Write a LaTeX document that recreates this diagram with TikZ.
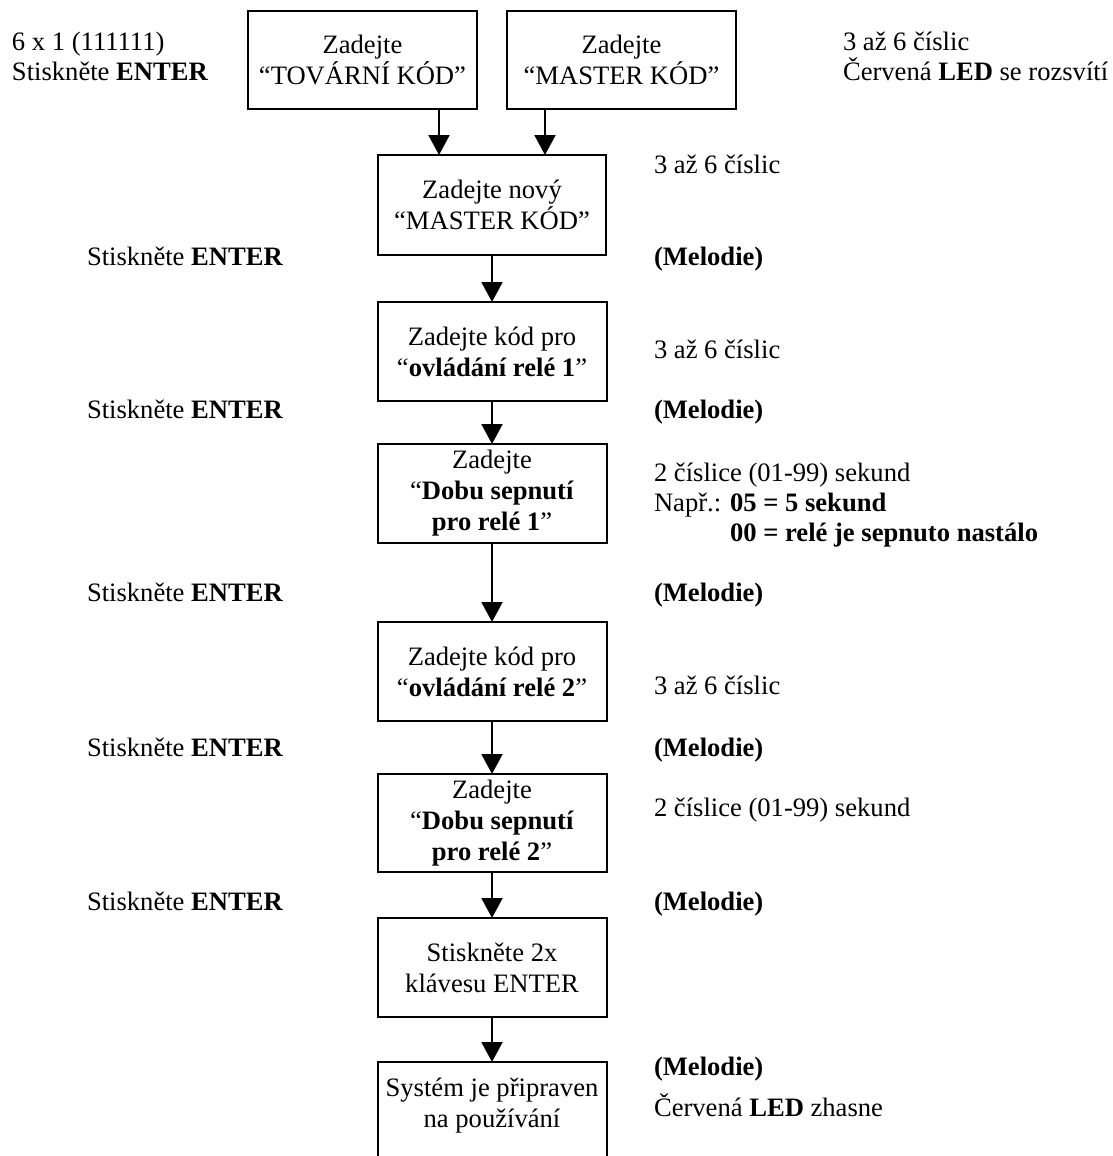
\documentclass[tikz,border=0pt]{standalone}
\usepackage{fontspec}
\setmainfont{Liberation Serif}
\usetikzlibrary{arrows.meta}
\begin{document}
\begin{tikzpicture}[x=1pt,y=-1pt,
  every node/.style={font=\fontsize{26.6}{31}\selectfont, inner sep=0pt, outer sep=0pt},
  box/.style={draw, line width=2pt, minimum width=229pt, minimum height=99pt, align=center},
  arr/.style={line width=2pt, -{Triangle[width=21pt,length=20pt]}},
  lbl/.style={anchor=base west}]
\useasboundingbox (0,0) rectangle (1112,1156);
\clip (0,0) rectangle (1112,1156);

% boxes
\node[box, minimum height=98pt] (b1) at (362.5,60) {Zadejte\\“TOVÁRNÍ KÓD”};
\node[box, minimum height=98pt] (b2) at (621.5,60) {Zadejte\\“MASTER KÓD”};
\node[box, minimum width=228pt, minimum height=100pt] (b3) at (492,205) {Zadejte nový\\“MASTER KÓD”};
\node[box] (b4) at (492,351.5) {Zadejte kód pro\\“\textbf{ovládání relé 1}”};
\node[box] (b5) at (492,493.5) {Zadejte\\“\textbf{Dobu sepnutí}\\\textbf{pro relé 1}”};
\node[box] (b6) at (492,671.5) {Zadejte kód pro\\“\textbf{ovládání relé 2}”};
\node[box, minimum height=98pt] (b7) at (492,823) {Zadejte\\“\textbf{Dobu sepnutí}\\\textbf{pro relé 2}”};
\node[box] (b8) at (492,967.5) {Stiskněte 2x\\klávesu ENTER};
\node[box] (b9) at (492,1111.5) {};
\node[align=center] (b9t) at (492,1106) {Systém je připraven\\na používání};

% connectors
\coordinate (a1) at (439,0);
\coordinate (a2) at (545,0);
\draw[arr] (a1 |- b1.south) -- (a1 |- b3.north);
\draw[arr] (a2 |- b2.south) -- (a2 |- b3.north);
\draw[arr] (b3.south) -- (b4.north);
\draw[arr] (b4.south) -- (b5.north);
\draw[arr] (b5.south) -- (b6.north);
\draw[arr] (b6.south) -- (b7.north);
\draw[arr] (b7.south) -- (b8.north);
\draw[arr] (b8.south) -- (b9.north);

% left texts
\node[lbl] (l0a) at (12,51) {6 x 1 (111111)};
\node[lbl] (l0b) at (12,81) {Stiskněte \textbf{ENTER}};
\node[lbl] (l1) at (87,265.5) {Stiskněte \textbf{ENTER}};
\node[lbl] (l2) at (87,418.5) {Stiskněte \textbf{ENTER}};
\node[lbl] (l3) at (87,601.5) {Stiskněte \textbf{ENTER}};
\node[lbl] (l4) at (87,756.5) {Stiskněte \textbf{ENTER}};
\node[lbl] (l5) at (87,910.5) {Stiskněte \textbf{ENTER}};

% right texts
\node[lbl] (r0a) at (843,51) {3 až 6 číslic};
\node[lbl] (r0b) at (843,81) {Červená \textbf{LED} se rozsvítí};
\node[lbl] (r1) at (654,173) {3 až 6 číslic};
\node[lbl] (m1) at (654,265.5) {\textbf{(Melodie)}};
\node[lbl] (r2) at (654,358) {3 až 6 číslic};
\node[lbl] (m2) at (654,418.5) {\textbf{(Melodie)}};
\node[lbl] (r3a) at (654,481) {2 číslice (01-99) sekund};
\node[lbl] (r3b) at (654,511) {Např.: \textbf{05 = 5 sekund}};
\node[lbl] (r3c) at (654,541) {\phantom{Např.: }\textbf{00 = relé je sepnuto nastálo}};
\node[lbl] (m3) at (654,601.5) {\textbf{(Melodie)}};
\node[lbl] (r4) at (654,694) {3 až 6 číslic};
\node[lbl] (m4) at (654,756.5) {\textbf{(Melodie)}};
\node[lbl] (r5) at (654,816) {2 číslice (01-99) sekund};
\node[lbl] (m5) at (654,910.5) {\textbf{(Melodie)}};
\node[lbl] (m6) at (654,1075.5) {\textbf{(Melodie)}};
\node[lbl] (r6) at (654,1116) {Červená \textbf{LED} zhasne};
\end{tikzpicture}
\end{document}
